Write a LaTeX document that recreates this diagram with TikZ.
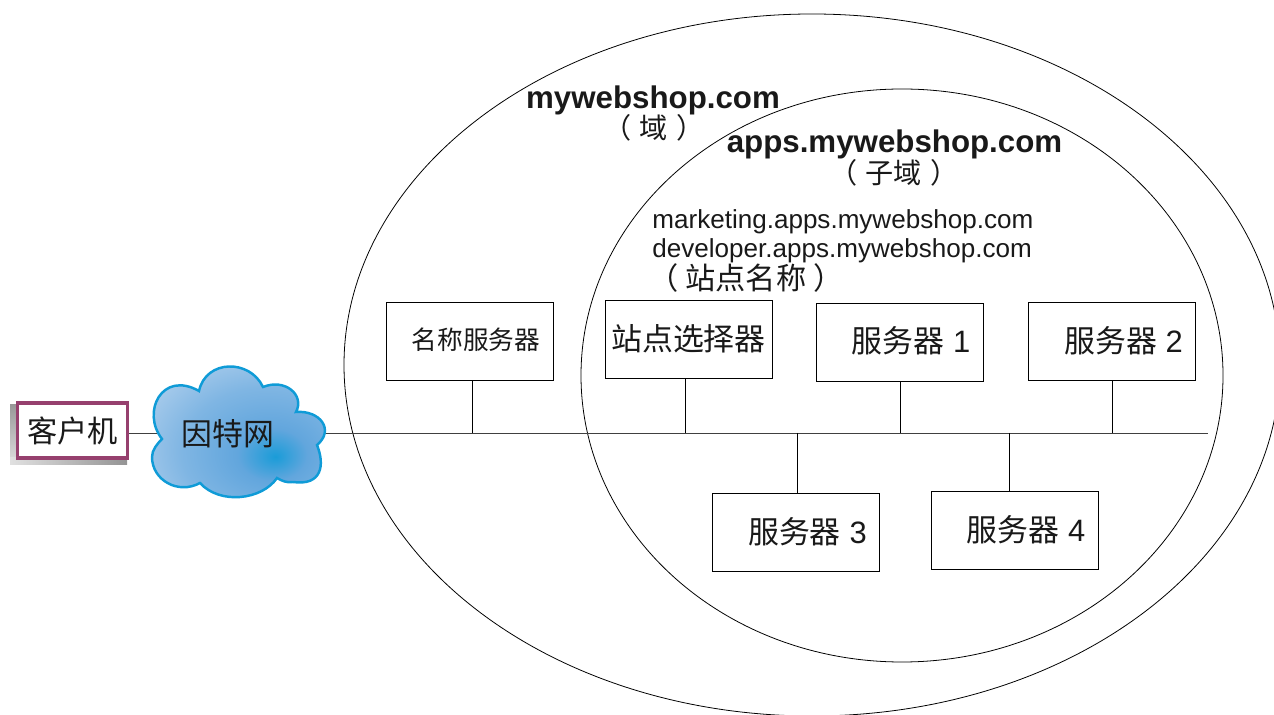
\documentclass[tikz,border=0pt]{standalone}
\usepackage{fontspec}
\setmainfont{Liberation Sans}
\newfontfamily\cjk{Noto Sans CJK SC}
\usepackage{tikz}
\definecolor{clientborder}{HTML}{96406E}
\definecolor{cloudborder}{HTML}{0F9BD7}
\definecolor{cloudhot}{HTML}{1A9CD8}
\definecolor{cloudmid}{HTML}{62A6DD}
\definecolor{cloudpale}{HTML}{C4DAF1}
\pgfdeclareradialshading{cloudshade}{\pgfpoint{9.7bp}{-8.5bp}}{%
  color(0bp)=(cloudhot); color(9bp)=(cloudmid); color(22bp)=(cloudmid!70!cloudpale); color(42bp)=(cloudpale); color(100bp)=(cloudpale)}
\newcommand{\hostlabel}[3]{\hspace*{#1}\raisebox{#2}{#3}}

\begin{document}
\begin{tikzpicture}[x=0.02cm, y=-0.02cm, line width=0.45pt,
    every node/.style={text=black!90},
    hostbox/.style={draw, minimum width=3.34cm, minimum height=1.56cm, inner sep=0pt, font=\fontsize{17.6}{20}\selectfont},
    domainname/.style={font=\bfseries\fontsize{17.8}{20}\selectfont},
    sitename/.style={anchor=west, inner sep=0pt, font=\fontsize{14.83}{18}\selectfont},
    cjklabel/.style={font=\cjk\fontsize{16}{18}\selectfont}]
    \useasboundingbox (0,0) rectangle (1274,715);
    \clip (0,0) rectangle (1274,715);

    % Domain ellipses
    \draw (812,365) ellipse [x radius=468, y radius=351];
    \draw (902,375.5) ellipse [x radius=321, y radius=286.5];

    % Client with its shadow
    \shade[top color=black!40, bottom color=black!12] (10,405) rectangle (17,465);
    \shade[left color=black!12, right color=black!42] (10,458) rectangle (127,465);
    \node[draw=clientborder, line width=2pt, fill=white, minimum width=2.2cm, minimum height=1.1cm, inner sep=0pt,
        font=\cjk\fontsize{17.2}{20}\selectfont] (client) at (72.5,430.5) {客户机};

    % Bus and its ends
    \coordinate (cloudwest) at (158,433);
    \coordinate (cloudeast) at (322,433);
    \coordinate (busend) at (1208,433);
    \draw[black!75] (client.east |- cloudwest) -- (cloudwest);
    \draw[black!75] (cloudeast) -- (busend);

    % Cloud
    \path[draw=cloudborder, line width=1.4pt, shading=cloudshade]
        (199,391) .. controls (206,359) and (250,359) .. (263,387)
        .. controls (285,378) and (305,395) .. (296,412)
        .. controls (320,410) and (335,430) .. (317,445)
        .. controls (325,465) and (322,486) .. (293,482)
        .. controls (287,483) and (282,481) .. (277,478)
        .. controls (262,500) and (220,505) .. (200,483)
        .. controls (178,495) and (152,480) .. (152,457)
        .. controls (152,450) and (157,444) .. (162,439)
        .. controls (141,412) and (162,370) .. (199,391) -- cycle;
    \node[font=\cjk\fontsize{17.6}{20}\selectfont] (internet) at (228,434) {因特网};

    % Domain labels
    \node[domainname] (domain) at (653,100) {mywebshop.com};
    \node[cjklabel] (domainnote) at (654,128) {（\hspace{5pt}域\hspace{5pt}）};
    \node[domainname] (subdomain) at (894.5,144) {apps.mywebshop.com};
    \node[cjklabel] (subdomainnote) at (894,173) {（\hspace{5pt}子域\hspace{5pt}）};
    \node[sitename] (site1) at (652,221.5) {marketing.apps.mywebshop.com};
    \node[sitename] (site2) at (652,250.5) {developer.apps.mywebshop.com};
    \node[font=\cjk\fontsize{17.2}{20}\selectfont] (sitenote) at (746,278) {（\hspace{4pt}站点名称\hspace{4pt}）};

    % Boxes above the bus
    \node[hostbox, font=\cjk\fontsize{14.6}{18}\selectfont] (nameserver) at (469.5,341) {\hostlabel{7.4pt}{2.2pt}{名称服务器}};
    \node[hostbox, font=\cjk\fontsize{17.6}{20}\selectfont] (selector) at (688.5,339.5) {\hostlabel{0pt}{2.2pt}{站点选择器}};
    \node[hostbox] (server1) at (899.5,342) {\hostlabel{13pt}{2.5pt}{{\cjk 服务器} 1}};
    \node[hostbox] (server2) at (1111.5,341.5) {\hostlabel{13.6pt}{2.5pt}{{\cjk 服务器} 2}};

    % Boxes below the bus
    \node[hostbox] (server3) at (796,532.5) {\hostlabel{13pt}{2.5pt}{{\cjk 服务器} 3}};
    \node[hostbox] (server4) at (1014.5,530.5) {\hostlabel{13pt}{2.5pt}{{\cjk 服务器} 4}};

    % Taps on the bus
    \coordinate (tapname) at (472,433);
    \coordinate (tapselector) at (685,433);
    \coordinate (tapone) at (900,433);
    \coordinate (taptwo) at (1112,433);
    \coordinate (tapthree) at (797,433);
    \coordinate (tapfour) at (1009,433);
    \draw (tapname) -- (tapname |- nameserver.south);
    \draw (tapselector) -- (tapselector |- selector.south);
    \draw (tapone) -- (tapone |- server1.south);
    \draw (taptwo) -- (taptwo |- server2.south);
    \draw (tapthree) -- (tapthree |- server3.north);
    \draw (tapfour) -- (tapfour |- server4.north);
\end{tikzpicture}
\end{document}
